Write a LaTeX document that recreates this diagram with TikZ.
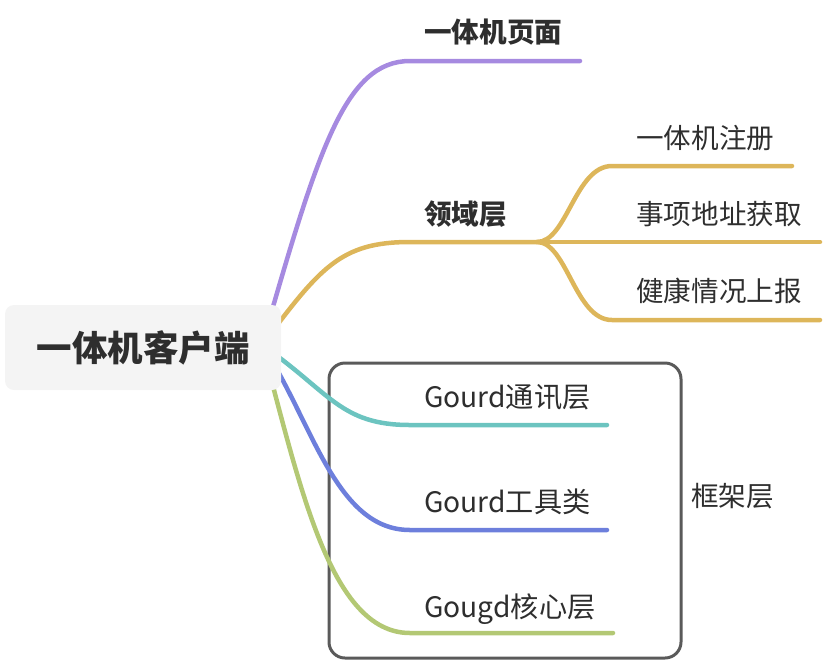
\documentclass[tikz,border=0pt]{standalone}
\usepackage{fontspec}
\setmainfont{Noto Sans CJK SC}
\definecolor{purp}{HTML}{A68AE0}
\definecolor{yel}{HTML}{DDB65A}
\definecolor{teal2}{HTML}{6CC4C0}
\definecolor{blu}{HTML}{6D7FDC}
\definecolor{grn}{HTML}{B3C874}
\definecolor{txt}{HTML}{2E2E2E}
\definecolor{boxc}{HTML}{5A5A5A}
\definecolor{rootfill}{HTML}{F4F4F4}
\begin{document}
\begin{tikzpicture}[x=1pt,y=-1pt,
  br/.style={line width=4.5pt, line cap=round},
  lbl/.style={anchor=base west, inner sep=0pt, font=\fontsize{27.6}{32}\selectfont, text=txt},
  lblg/.style={anchor=base west, inner sep=0pt, font=\fontsize{28.2}{32}\selectfont, text=txt},
  lblb/.style={lbl, font=\fontsize{27.6}{32}\selectfont\bfseries}]
\useasboundingbox (0,0) rectangle (824,665);
% frame box
\node[draw=boxc, line width=3pt, rounded corners=16pt, minimum width=352pt, minimum height=295pt, inner sep=0pt] (frame) at (505,510.5) {};
% coordinates
\coordinate (o) at (262,345);
\coordinate (p1) at (410,61);  \coordinate (p1e) at (580,61);
\coordinate (f) at (537,242);
\coordinate (p2) at (410,242);
\coordinate (s1) at (612,166); \coordinate (s1e) at (792,166);
\coordinate (s2e) at (820,242);
\coordinate (s3) at (612,320); \coordinate (s3e) at (820,320);
\coordinate (p3) at (410,425); \coordinate (p3e) at (607,425);
\coordinate (p4) at (410,530); \coordinate (p4e) at (607,530);
\coordinate (p5) at (410,633); \coordinate (p5e) at (613,633);
% branches
\draw[br, purp] (o) .. controls (318,150) and (345,61) .. (p1) -- (p1e);
\draw[br, yel] (o) .. controls (320,268) and (340,242) .. (p2) -- (f);
\draw[br, yel] (f) .. controls (567,242) and (575,166) .. (s1) -- (s1e);
\draw[br, yel] (f) -- (s2e);
\draw[br, yel] (f) .. controls (567,242) and (575,320) .. (s3) -- (s3e);
\draw[br, teal2] (o) .. controls (330,392) and (340,425) .. (p3) -- (p3e);
\draw[br, blu] (o) .. controls (312,420) and (335,530) .. (p4) -- (p4e);
\draw[br, grn] (o) .. controls (300,485) and (330,633) .. (p5) -- (p5e);
% root
\node[fill=rootfill, rounded corners=9pt, minimum width=276pt, minimum height=85pt, inner sep=0pt,
      font=\fontsize{35.5}{40}\selectfont\bfseries, text=txt] (root) at (143,347.5) {一体机客户端};
% labels
\node[lblb] (l1) at (424,42.5) {一体机页面};
\node[lblb] (l2) at (424,224) {领域层};
\node[lbl] (l21) at (636,148.5) {一体机注册};
\node[lbl] (l22) at (636,224) {事项地址获取};
\node[lbl] (l23) at (636,301.5) {健康情况上报};
\node[lblg] (l3) at (424,407.5) {Gourd通讯层};
\node[lblg] (l4) at (424,512.5) {Gourd工具类};
\node[lblg] (l5) at (424,617.5) {Gougd核心层};
\node[lbl] (lf) at (691,506.5) {框架层};
\end{tikzpicture}
\end{document}
